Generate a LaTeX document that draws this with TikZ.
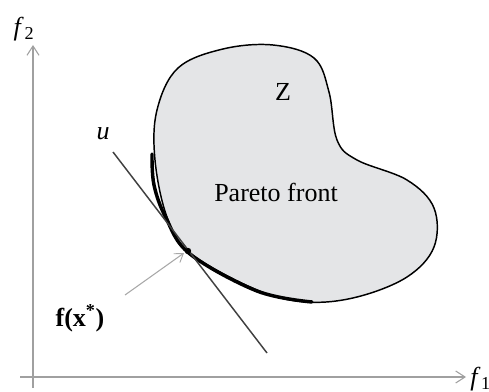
\documentclass[tikz,border=0pt]{standalone}
\usepackage{fontspec}
\setmainfont{Liberation Serif}
\usetikzlibrary{arrows.meta}
\definecolor{blobfill}{HTML}{E4E5E7}
\definecolor{axisgray}{HTML}{A0A0A0}
\definecolor{arrowgray}{HTML}{A8A8A8}
\definecolor{linegray}{HTML}{404040}
\tikzset{
  axis/.style={draw=axisgray, line width=1.1pt, -{Straight Barb[length=7pt,width=9pt,line width=0.8pt]}},
  lbl/.style={inner sep=0pt, font=\fontsize{19.5}{22}\selectfont},
  ptr/.style={draw=arrowgray, line width=0.8pt, -{Straight Barb[length=6pt,width=8pt,line width=0.7pt]}}
}
\begin{document}
\begin{tikzpicture}[x=0.75pt,y=-0.75pt]
\useasboundingbox (0,0) rectangle (489,392);
% axes
\coordinate (o1) at (33,388);
\coordinate (yt) at (33,45);
\coordinate (o2) at (20,377);
\coordinate (xt) at (466,377);
\draw[axis] (o1) -- (yt);
\draw[axis] (o2) -- (xt);
\node[lbl] (f2) at (24,29) {\textit{f}\kern0.5pt\textsubscript{2}};
\node[lbl, anchor=west] (f1) at (470,379) {\textit{f}\kern0.5pt\textsubscript{1}};
% feasible set Z
\draw[fill=blobfill, draw=black, line width=1.1pt]
  plot[smooth cycle, tension=0.6] coordinates {
   (157,110) (178,68) (223,49) (273,45) (314,58) (329,92) (337,140) (357,160)
   (407,180) (434,208) (434,247) (407,277) (357,297) (307,302) (257,290)
   (190,253) (167,217) (155,160)};
% Pareto front
\draw[line width=2.6pt, line cap=round]
  plot[smooth, tension=0.6] coordinates {
   (152,154) (154,185) (166,218) (190,254) (257,291) (312,302)};
% tangent line u
\coordinate (ua) at (113,152);
\coordinate (ub) at (267,353);
\draw[draw=linegray, line width=1.1pt] (ua) -- (ub);
\node[lbl] (u) at (103,134) {\textit{u}};
% optimal point
\fill (188,251) circle (3.2);
\coordinate (pt) at (184,253);
\coordinate (ps) at (125,295);
\draw[ptr] (ps) -- (pt);
\node[lbl] (fx) at (80,318) {\textbf{f(x}\textsuperscript{\textbf{*}}\textbf{)}};
% labels
\node[lbl] (z) at (283,92) {Z};
\node[lbl] (pf) at (276,192) {Pareto front};
\end{tikzpicture}
\end{document}
